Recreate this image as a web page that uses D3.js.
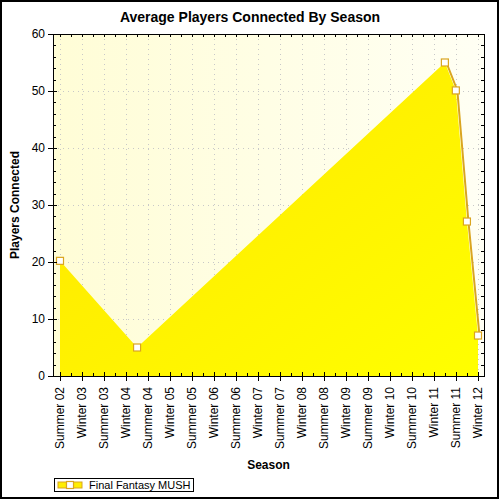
<!DOCTYPE html>
<html>
<head>
<meta charset="utf-8">
<script src="https://cdn.jsdelivr.net/npm/d3@7"></script>
<style>
  body { margin: 0; background: #fff; }
  text { font-family: "Liberation Sans", Arial, sans-serif; }
</style>
</head>
<body>
<div id="chart"></div>
<script>
// season tick labels (Summer = July, Winter = January)
var seasons = ["Summer 02", "Winter 03", "Summer 03", "Winter 04", "Summer 04",
    "Winter 05", "Summer 05", "Winter 06", "Summer 06", "Winter 07", "Summer 07",
    "Winter 08", "Summer 08", "Winter 09", "Summer 09", "Winter 10", "Summer 10",
    "Winter 11", "Summer 11", "Winter 12"];

// observation dates and average players connected
var dates = ["2002-07-01", "2004-04-01", "2011-04-01", "2011-07-01", "2011-10-01", "2012-01-01"];
var players = [20.2, 5, 55, 50.1, 27.1, 7.1];

var seriesName = "Final Fantasy MUSH";

var width = 500,
    height = 500;

var plot = { left: 53, right: 484, top: 34, bottom: 376 };

function seasonDate(s) {
    var p = s.split(" ");
    return new Date(2000 + (+p[1]), p[0] == "Summer" ? 6 : 0, 1);
}

var parse = d3.timeParse("%Y-%m-%d");
var data = dates.map(function (d, i) { return { date: parse(d), value: players[i] }; });
var tickDates = seasons.map(seasonDate);

var x = d3.scaleTime()
    .domain([tickDates[0], tickDates[tickDates.length - 1]])
    .range([60, 478]);

var y = d3.scaleLinear()
    .domain([0, 60])
    .range([plot.bottom, plot.top]);

var svg = d3.select("#chart").append("svg")
    .attr("width", width)
    .attr("height", height);

var defs = svg.append("defs");

var bg = defs.append("linearGradient").attr("id", "bg")
    .attr("x1", "0").attr("y1", "0").attr("x2", "1").attr("y2", "0");
bg.append("stop").attr("offset", "0").attr("stop-color", "#fffdd6");
bg.append("stop").attr("offset", "1").attr("stop-color", "#fffff4");

var fill = defs.append("linearGradient").attr("id", "fill")
    .attr("x1", "0").attr("y1", "0").attr("x2", "1").attr("y2", "1");
fill.append("stop").attr("offset", "0").attr("stop-color", "#ffe500");
fill.append("stop").attr("offset", "1").attr("stop-color", "#ffff00");

// outer border
svg.append("rect")
    .attr("x", 1).attr("y", 1)
    .attr("width", width - 3).attr("height", height - 3)
    .attr("fill", "#fff")
    .attr("stroke", "#000")
    .attr("stroke-width", 2);

// plot background
svg.append("rect")
    .attr("x", plot.left).attr("y", plot.top)
    .attr("width", plot.right - plot.left)
    .attr("height", plot.bottom - plot.top)
    .attr("fill", "url(#bg)");

// grid
var grid = svg.append("g")
    .attr("stroke", "#c8c8c8")
    .attr("stroke-dasharray", "1,4");

grid.selectAll(".vg")
    .data(tickDates)
    .enter().append("line")
    .attr("x1", function (d) { return Math.round(x(d)) + 0.5; })
    .attr("x2", function (d) { return Math.round(x(d)) + 0.5; })
    .attr("y1", plot.top)
    .attr("y2", plot.bottom);

grid.selectAll(".hg")
    .data(y.ticks(6).slice(1, -1))
    .enter().append("line")
    .attr("x1", plot.left)
    .attr("x2", plot.right)
    .attr("y1", function (d) { return Math.round(y(d)) + 0.5; })
    .attr("y2", function (d) { return Math.round(y(d)) + 0.5; });

// area
var area = d3.area()
    .x(function (d) { return x(d.date); })
    .y0(y(0))
    .y1(function (d) { return y(d.value); });

// edge line is only visible on the falling part after the peak
var peak = d3.maxIndex(data, function (d) { return d.value; });
var line = d3.line()
    .x(function (d) { return x(d.date); })
    .y(function (d) { return y(d.value); });

svg.append("path")
    .datum(data.slice(peak))
    .attr("d", line)
    .attr("transform", "translate(1.5,0)")
    .attr("fill", "none")
    .attr("stroke", "#daa520")
    .attr("stroke-width", 2);

svg.append("path")
    .datum(data)
    .attr("d", area)
    .attr("fill", "url(#fill)");

// markers
svg.selectAll(".marker")
    .data(data)
    .enter().append("rect")
    .attr("x", function (d) { return x(d.date) - 3.5; })
    .attr("y", function (d) { return y(d.value) - 3.5; })
    .attr("width", 7)
    .attr("height", 7)
    .attr("fill", "#fff")
    .attr("stroke", "#daa520")
    .attr("stroke-width", 1.2);

// axes frame and ticks
var axes = svg.append("g")
    .attr("stroke", "#000")
    .attr("stroke-width", 1)
    .attr("shape-rendering", "crispEdges");

axes.append("line")
    .attr("x1", plot.left).attr("x2", plot.right)
    .attr("y1", plot.top).attr("y2", plot.top);
axes.append("line")
    .attr("x1", plot.left).attr("x2", plot.right + 1)
    .attr("y1", plot.bottom).attr("y2", plot.bottom);
axes.append("line")
    .attr("x1", plot.left).attr("x2", plot.left)
    .attr("y1", plot.top).attr("y2", plot.bottom);
axes.append("line")
    .attr("x1", plot.right).attr("x2", plot.right)
    .attr("y1", plot.top).attr("y2", plot.bottom);

var quarters = d3.timeMonth.every(3).range(x.invert(plot.left), x.invert(plot.right));

// bottom: minor ticks inside, major ticks crossing
axes.selectAll(".bmin")
    .data(quarters)
    .enter().append("line")
    .attr("x1", function (d) { return Math.round(x(d)); })
    .attr("x2", function (d) { return Math.round(x(d)); })
    .attr("y1", plot.bottom)
    .attr("y2", plot.bottom - 3);
axes.selectAll(".bmaj")
    .data(tickDates)
    .enter().append("line")
    .attr("x1", function (d) { return Math.round(x(d)); })
    .attr("x2", function (d) { return Math.round(x(d)); })
    .attr("y1", plot.bottom - 4)
    .attr("y2", plot.bottom + 5);

// top: ticks inside
axes.selectAll(".tmin")
    .data(quarters)
    .enter().append("line")
    .attr("x1", function (d) { return Math.round(x(d)); })
    .attr("x2", function (d) { return Math.round(x(d)); })
    .attr("y1", plot.top)
    .attr("y2", plot.top + 3);

// left: minor inside, major crossing
var yMinor = d3.range(0, 61, 2);
axes.selectAll(".lmin")
    .data(yMinor)
    .enter().append("line")
    .attr("x1", plot.left)
    .attr("x2", plot.left + 3)
    .attr("y1", function (d) { return Math.round(y(d)); })
    .attr("y2", function (d) { return Math.round(y(d)); });
axes.selectAll(".lmaj")
    .data(y.ticks(6))
    .enter().append("line")
    .attr("x1", plot.left - 5)
    .attr("x2", plot.left + 4)
    .attr("y1", function (d) { return Math.round(y(d)); })
    .attr("y2", function (d) { return Math.round(y(d)); });

// right: ticks inside
axes.selectAll(".rmin")
    .data(yMinor)
    .enter().append("line")
    .attr("x1", plot.right)
    .attr("x2", plot.right - 3)
    .attr("y1", function (d) { return Math.round(y(d)); })
    .attr("y2", function (d) { return Math.round(y(d)); });

// tick labels
svg.selectAll(".ylab")
    .data(y.ticks(6))
    .enter().append("text")
    .attr("x", 45)
    .attr("y", function (d) { return y(d); })
    .attr("dy", "0.35em")
    .attr("text-anchor", "end")
    .attr("font-size", 12)
    .text(function (d) { return d; });

svg.selectAll(".xlab")
    .data(seasons)
    .enter().append("text")
    .attr("transform", function (d, i) {
        return "translate(" + x(tickDates[i]) + ",387) rotate(-90)";
    })
    .attr("dy", "0.35em")
    .attr("text-anchor", "end")
    .attr("font-size", 12)
    .text(function (d) { return d; });

// titles
svg.append("text")
    .attr("x", 250).attr("y", 22)
    .attr("text-anchor", "middle")
    .attr("font-size", 14)
    .attr("font-weight", "bold")
    .text("Average Players Connected By Season");

svg.append("text")
    .attr("transform", "translate(19," + (plot.top + plot.bottom) / 2 + ") rotate(-90)")
    .attr("text-anchor", "middle")
    .attr("font-size", 12)
    .attr("font-weight", "bold")
    .text("Players Connected");

svg.append("text")
    .attr("x", (plot.left + plot.right) / 2).attr("y", 469)
    .attr("text-anchor", "middle")
    .attr("font-size", 12)
    .attr("font-weight", "bold")
    .text("Season");

// legend
var legend = svg.append("g").attr("transform", "translate(54,478)");
legend.append("rect")
    .attr("x", 0.5).attr("y", 0.5)
    .attr("width", 139).attr("height", 13)
    .attr("fill", "#fff")
    .attr("stroke", "#000");
legend.append("rect")
    .attr("x", 4).attr("y", 4)
    .attr("width", 24).attr("height", 6)
    .attr("fill", "#ffee00")
    .attr("stroke", "#daa520")
    .attr("stroke-width", 1);
legend.append("rect")
    .attr("x", 12.5).attr("y", 3.5)
    .attr("width", 7).attr("height", 7)
    .attr("fill", "#fff")
    .attr("stroke", "#daa520")
    .attr("stroke-width", 1.2);
legend.append("text")
    .attr("x", 35).attr("y", 10.5)
    .attr("font-size", 11)
    .text(seriesName);
</script>
</body>
</html>
